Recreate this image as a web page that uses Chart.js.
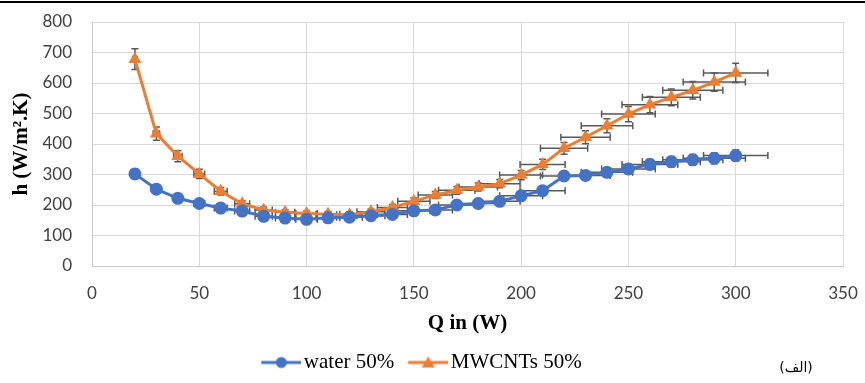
<!DOCTYPE html>
<html>
<head>
<meta charset="utf-8">
<script src="https://cdn.jsdelivr.net/npm/chart.js@4"></script>
<style>
  body { margin: 0; background: #fff; }
  #wrap { position: relative; width: 865px; height: 383px; }
  #topline { position: absolute; left: 0; top: 1px; width: 865px; height: 2px; background: #000; }
  #tag { position: absolute; left: 776px; top: 359px; width: 40px; text-align: center;
         font: 14px "DejaVu Sans", sans-serif; direction: rtl; }
</style>
</head>
<body>
<div id="wrap">
  <canvas id="hChart" width="865" height="383"></canvas>
  <div id="topline"></div>
  <div id="tag">(الف)</div>
</div>
<script>
// heat input Q (W)
let qValues = [20, 30, 40, 50, 60, 70, 80, 90, 100, 110, 120, 130, 140, 150, 160,
               170, 180, 190, 200, 210, 220, 230, 240, 250, 260, 270, 280, 290, 300];
// h (W/m2.K)
let waterH = [302, 252, 222, 205, 190, 180, 163, 157, 153, 158, 160, 165, 169, 181, 184,
              200, 205, 212, 230, 247, 295, 297, 307, 318, 333, 342, 348, 353, 362];
let mwcntH = [678, 434, 360, 302, 245, 204, 184, 176, 172, 170, 168, 178, 192, 212, 233,
              248, 259, 270, 298, 333, 386, 422, 460, 498, 529, 553, 576, 603, 633];
let seriesNames = ['water 50%', 'MWCNTs 50%'];
let errorPct = 0.05; // excel percentage error bars, both directions

const blue = '#4472C4';
const orange = '#ED7D31';

function legendIcon(color, shape) {
    let c = document.createElement('canvas');
    c.width = 48; c.height = 16;
    let g = c.getContext('2d');
    g.strokeStyle = color; g.lineWidth = 3;
    g.beginPath(); g.moveTo(8, 8); g.lineTo(48, 8); g.stroke();
    g.fillStyle = color;
    g.beginPath();
    if (shape == 'circle') {
        g.arc(28, 8, 5.5, 0, Math.PI * 2);
    } else {
        g.moveTo(28, 2); g.lineTo(34.5, 13); g.lineTo(21.5, 13); g.closePath();
    }
    g.fill();
    return c;
}

function toPoints(ys) {
    return qValues.map((q, i) => ({ x: q, y: ys[i] }));
}

const errorBars = {
    id: 'errorBars',
    beforeDatasetsDraw(chart) {
        let ctx = chart.ctx;
        let xs = chart.scales.x, ys = chart.scales.y;
        let cap = 3.5;
        ctx.save();
        ctx.strokeStyle = '#595959';
        ctx.lineWidth = 1.5;
        chart.data.datasets.forEach(ds => {
            ds.data.forEach(p => {
                let px = xs.getPixelForValue(p.x), py = ys.getPixelForValue(p.y);
                let xl = xs.getPixelForValue(p.x * (1 - errorPct));
                let xr = xs.getPixelForValue(p.x * (1 + errorPct));
                let yt = ys.getPixelForValue(p.y * (1 + errorPct));
                let yb = ys.getPixelForValue(p.y * (1 - errorPct));
                ctx.beginPath();
                ctx.moveTo(xl, py); ctx.lineTo(xr, py);
                ctx.moveTo(xl, py - cap); ctx.lineTo(xl, py + cap);
                ctx.moveTo(xr, py - cap); ctx.lineTo(xr, py + cap);
                ctx.moveTo(px, yt); ctx.lineTo(px, yb);
                ctx.moveTo(px - cap, yt); ctx.lineTo(px + cap, yt);
                ctx.moveTo(px - cap, yb); ctx.lineTo(px + cap, yb);
                ctx.stroke();
            });
        });
        ctx.restore();
    }
};

function drawChart() {
    let ctx = document.getElementById('hChart').getContext('2d');
    new Chart(ctx, {
        type: 'line',
        data: {
            datasets: [
                {
                    label: seriesNames[0],
                    data: toPoints(waterH),
                    borderColor: blue,
                    backgroundColor: blue,
                    borderWidth: 3,
                    pointStyle: 'circle',
                    pointRadius: 6.5,
                    pointBorderWidth: 0,
                    tension: 0
                }, {
                    label: seriesNames[1],
                    data: toPoints(mwcntH),
                    borderColor: orange,
                    backgroundColor: orange,
                    borderWidth: 3,
                    pointStyle: 'triangle',
                    pointRadius: 7.5,
                    pointBorderWidth: 0,
                    tension: 0
                }]
        },
        options: {
            responsive: false,
            animation: false,
            devicePixelRatio: 1,
            layout: { padding: { left: 0, right: 22, top: 22, bottom: 0 } },
            scales: {
                x: {
                    type: 'linear',
                    min: 0, max: 350,
                    ticks: { stepSize: 50, padding: 0, color: '#404040',
                             font: { family: 'Lato', size: 17 } },
                    grid: { color: '#D9D9D9', drawTicks: true, tickLength: 17, tickColor: 'rgba(0,0,0,0)' },
                    border: { color: '#C8C8C8' },
                    title: { display: true, text: 'Q in (W)', color: '#000',
                             font: { family: 'Liberation Serif', size: 21, weight: 'bold' },
                             padding: { top: 0, bottom: 2 } },
                    afterFit: (scale) => { scale.height = 72; }
                },
                y: {
                    min: 0, max: 800,
                    ticks: { stepSize: 100, padding: 0, color: '#404040',
                             font: { family: 'Lato', size: 17 } },
                    grid: { color: '#D9D9D9', drawTicks: true, tickLength: 20, tickColor: 'rgba(0,0,0,0)' },
                    border: { color: '#C8C8C8' },
                    title: { display: true, text: 'h (W/m².K)', color: '#000',
                             font: { family: 'Liberation Serif', size: 21, weight: 'bold' },
                             padding: { top: 9, bottom: 0 } },
                    afterFit: (scale) => { scale.width = 92; }
                }
            },
            plugins: {
                legend: {
                    position: 'bottom',
                    labels: {
                        usePointStyle: true,
                        pointStyleWidth: 32,
                        padding: 14,
                        color: '#000',
                        font: { family: 'Liberation Serif', size: 21 },
                        generateLabels: (chart) => chart.data.datasets.map((ds, i) => ({
                            text: ds.label,
                            pointStyle: legendIcon(ds.borderColor, ds.pointStyle),
                            fontColor: '#000',
                            datasetIndex: i
                        }))
                    }
                },
                tooltip: { enabled: false }
            }
        },
        plugins: [errorBars]
    });
}

drawChart();
</script>
</body>
</html>
